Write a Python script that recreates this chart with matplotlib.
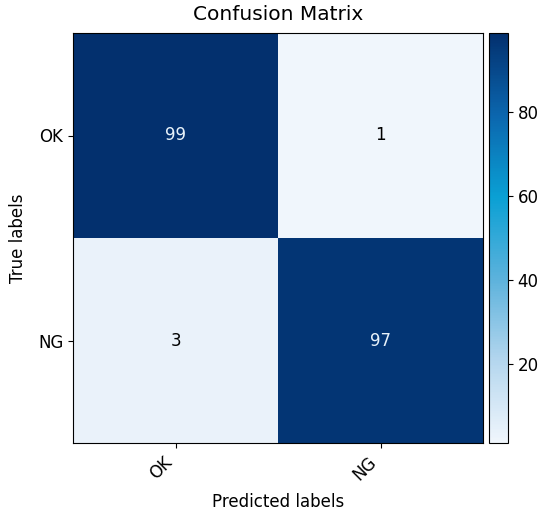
import numpy as np
import matplotlib
matplotlib.use('Agg')
import matplotlib.pyplot as plt
from matplotlib.colors import LinearSegmentedColormap

labels = ['OK', 'NG']
cm = np.array([[99, 1],
               [3, 97]])

# colour ramp (light -> dark)
ramp = ['#f0f6fc', '#b4d6ee', '#5cb2dc', '#0aa0d4', '#0b66ae', '#03306e']
cmap = LinearSegmentedColormap.from_list('cm_blues', ramp)

plt.rcParams['font.size'] = 12

fig = plt.figure(figsize=(5.5, 5.17), dpi=100)
ax = fig.add_axes([73/550, 1-443/517, 410/550, 410/517])
cax = fig.add_axes([489/550, 1-443/517, 19/550, 410/517])

im = ax.imshow(cm, interpolation='nearest', cmap=cmap)
ax.set_title('Confusion Matrix', fontsize=14.5, pad=9)
fig.colorbar(im, cax=cax)

ticks = np.arange(len(labels))
ax.set_xticks(ticks)
ax.set_xticklabels(labels, rotation=45, ha='right')
ax.set_yticks(ticks)
ax.set_yticklabels(labels)

thresh = cm.max() / 2.
for i in range(cm.shape[0]):
    for j in range(cm.shape[1]):
        ax.text(j, i, format(cm[i, j], 'd'), ha='center', va='center',
                color='#e8f2fa' if cm[i, j] > thresh else 'black')

ax.set_ylabel('True labels', labelpad=8)
ax.set_xlabel('Predicted labels', labelpad=7)

fig.savefig('out.png', dpi=100)
